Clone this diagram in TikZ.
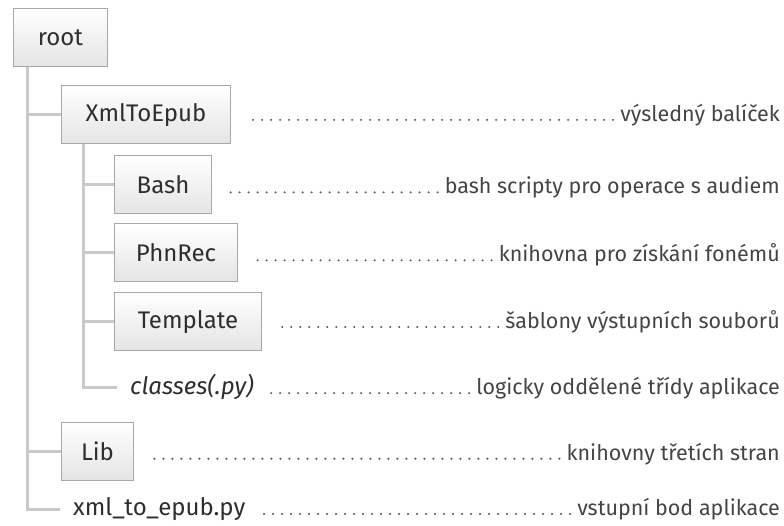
\documentclass[tikz,border=0pt]{standalone}
\usepackage{fontspec}
\setmainfont{Fira Sans}
\definecolor{linegray}{HTML}{C9C9C9}
\definecolor{boxborder}{HTML}{A8A8A8}
\definecolor{boxbottom}{HTML}{E4E4E4}
\definecolor{labeltext}{HTML}{2E2E2E}
\definecolor{desctext}{HTML}{454545}
\definecolor{dotgray}{HTML}{5A5A5A}
\begin{document}
\begin{tikzpicture}[x=1pt,y=-1pt,
  box/.style={draw=boxborder, line width=1pt, top color=white, bottom color=boxbottom,
    minimum height=58pt, inner xsep=8pt, anchor=west,
    font=\fontsize{24}{28}\selectfont, text=labeltext},
  file/.style={anchor=west, inner xsep=13pt, font=\fontsize{24}{28}\selectfont, text=labeltext},
  desc/.style={anchor=base east, inner sep=0pt, font=\fontsize{21.5}{25}\selectfont, text=desctext},
  tree/.style={draw=linegray, line width=3pt},
  leader/.style={draw=dotgray, line width=2.3pt, line cap=round, dash pattern=on 0pt off 9pt}]
\useasboundingbox[fill=white] (0,0) rectangle (784,526);
\coordinate (R) at (780,0);
% nodes
\node[box, minimum width=94pt] (root) at (13,38) {root};
\node[box, minimum width=169pt] (xml) at (61,115) {XmlToEpub};
\node[box, minimum width=97pt] (bash) at (114,185) {Bash};
\node[box, minimum width=123pt] (phn) at (114,253) {PhnRec};
\node[box, minimum width=147pt] (tmpl) at (114,322) {Template};
\node[file] (cls) at (117,387) {\itshape classes(.py)};
\node[box, minimum width=72pt] (lib) at (61,451) {Lib};
\node[file] (main) at (60,509) {xml\_to\_epub.py};
% descriptions
\node[desc] (dxml) at (xml.base -| R) {výsledný balíček};
\node[desc] (dbash) at (bash.base -| R) {bash scripty pro operace s audiem};
\node[desc] (dphn) at (phn.base -| R) {knihovna pro získání fonémů};
\node[desc] (dtmpl) at (tmpl.base -| R) {šablony výstupních souborů};
\node[desc] (dcls) at (cls.base -| R) {logicky oddělené třídy aplikace};
\node[desc] (dlib) at (lib.base -| R) {knihovny třetích stran};
\node[desc] (dmain) at (main.base -| R) {vstupní bod aplikace};
% tree connectors
\draw[tree] ([xshift=14pt]root.south west) |- (main.west);
\draw[tree] ([xshift=14pt]root.south west) |- (xml.west);
\draw[tree] ([xshift=14pt]root.south west) |- (lib.west);
\draw[tree] ([xshift=22pt]xml.south west) |- (cls.west);
\draw[tree] ([xshift=22pt]xml.south west) |- (bash.west);
\draw[tree] ([xshift=22pt]xml.south west) |- (phn.west);
\draw[tree] ([xshift=22pt]xml.south west) |- (tmpl.west);
% redraw boxes above lines
\node[box, minimum width=94pt] at (root.west) {root};
\node[box, minimum width=169pt] at (xml.west) {XmlToEpub};
\node[box, minimum width=97pt] at (bash.west) {Bash};
\node[box, minimum width=123pt] at (phn.west) {PhnRec};
\node[box, minimum width=147pt] at (tmpl.west) {Template};
\node[box, minimum width=72pt] at (lib.west) {Lib};
% leaders (drawn right to left so the last dot sits next to the text)
\draw[leader] ([xshift=-7pt,yshift=1.5pt]dxml.base west) -- ([xshift=18pt,yshift=1.5pt]xml.base east);
\draw[leader] ([xshift=-7pt,yshift=1.5pt]dbash.base west) -- ([xshift=16pt,yshift=1.5pt]bash.base east);
\draw[leader] ([xshift=-7pt,yshift=1.5pt]dphn.base west) -- ([xshift=14pt,yshift=1.5pt]phn.base east);
\draw[leader] ([xshift=-7pt,yshift=1.5pt]dtmpl.base west) -- ([xshift=12pt,yshift=1.5pt]tmpl.base east);
\draw[leader] ([xshift=-7pt,yshift=1.5pt]dcls.base west) -- ([xshift=0pt,yshift=1.5pt]cls.base east);
\draw[leader] ([xshift=-7pt,yshift=1.5pt]dlib.base west) -- ([xshift=13pt,yshift=1.5pt]lib.base east);
\draw[leader] ([xshift=-7pt,yshift=1.5pt]dmain.base west) -- ([xshift=5pt,yshift=1.5pt]main.base east);
\end{tikzpicture}
\end{document}
